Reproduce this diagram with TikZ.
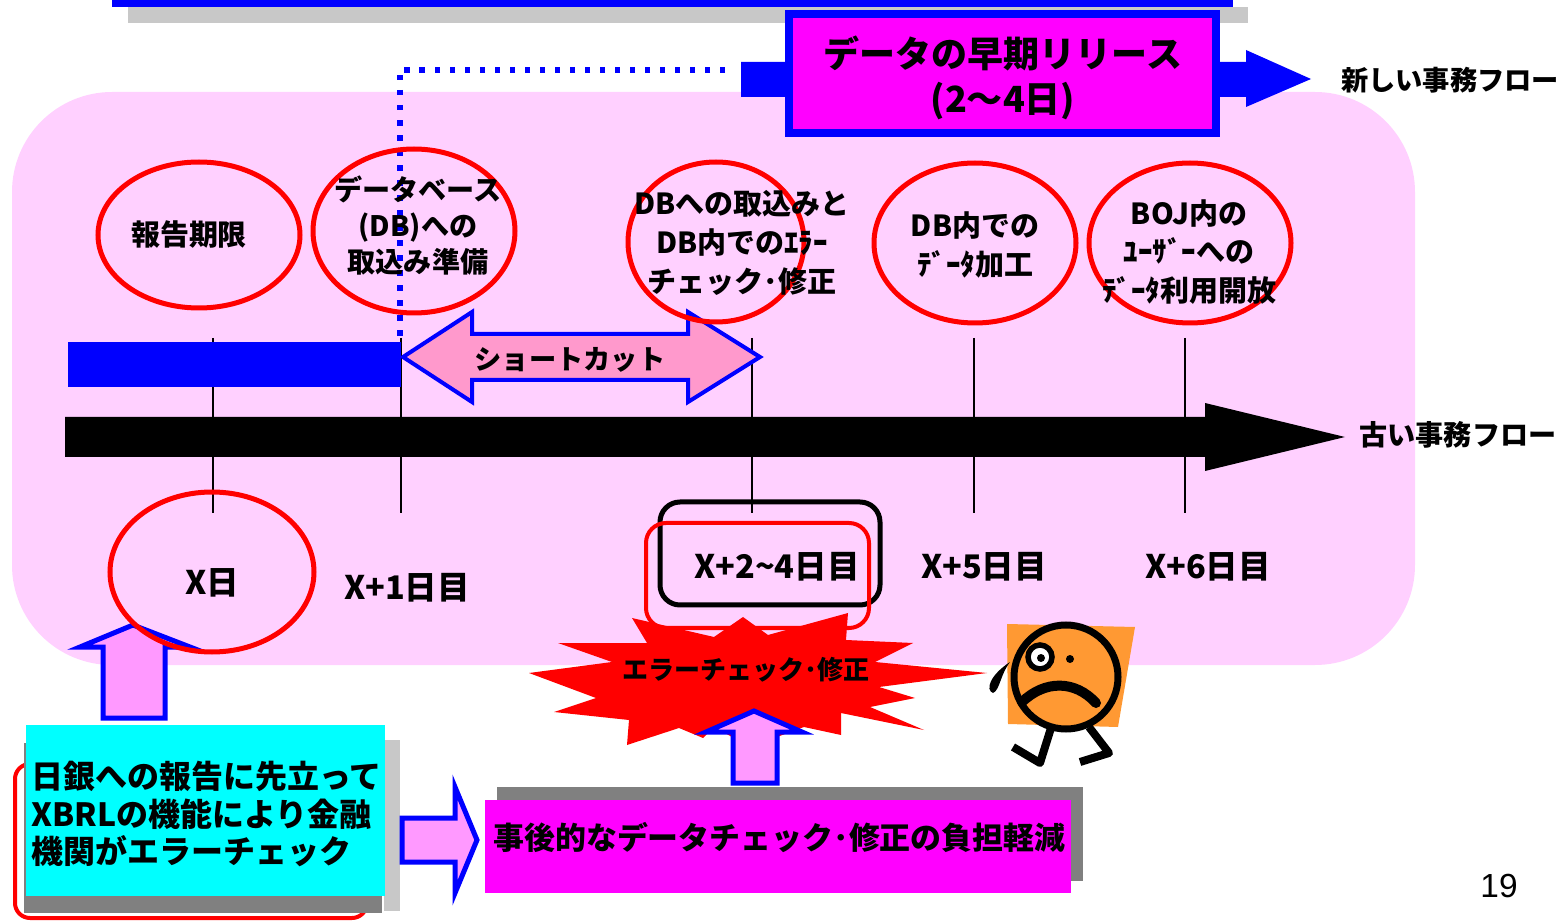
\documentclass[tikz,border=0pt]{standalone}
\usepackage{fontspec}
\setmainfont{Noto Sans CJK JP}
\newfontfamily\pagefont{Liberation Sans}
\usetikzlibrary{calc}

\definecolor{bgpink}{RGB}{255,208,255}
\definecolor{arrowpink}{RGB}{255,153,255}
\definecolor{cutpink}{RGB}{255,153,204}
\definecolor{facegold}{RGB}{255,153,51}
\definecolor{shadowgray}{RGB}{128,128,128}
\definecolor{gridgray}{RGB}{200,200,200}
\definecolor{boxmagenta}{RGB}{255,0,255}
\definecolor{boxcyan}{RGB}{0,255,255}

\tikzset{
	ring/.style={draw=red, line width=1mm},
	tick/.style={line width=0.45mm},
	fatarrow/.style={fill=arrowpink, draw=blue, line width=1mm, line join=miter},
	ringtext/.style={font=\bfseries\fontsize{16.5}{22}\selectfont, align=center, inner sep=0pt},
	daytext/.style={font=\bfseries\fontsize{18.5}{22}\selectfont, inner sep=0pt},
	flowtext/.style={font=\bfseries\fontsize{15.5}{18}\selectfont, inner sep=0pt},
	boxtext/.style={font=\bfseries\fontsize{18.2}{21.5}\selectfont, inner sep=0pt, align=left}
}

\begin{document}
\begin{tikzpicture}[x=0.2mm, y=-0.2mm]
			%%%%% START %%%%%
			\useasboundingbox (0,0) rectangle (1563,921);
			
			% edge of the box above
			\fill[gridgray] (128,7) rectangle (1248,23);
			\fill[blue] (112,-2) rectangle (1233,7);
			
			% background panel
			\fill[bgpink, rounded corners=20mm] (12,92) rectangle (1415,665);
			
			% new flow: arrow behind the title box
			\fill[blue] (741,62) -- (1246,62) -- (1246,50) -- (1311,79) -- (1246,107) -- (1246,97) -- (741,97) -- cycle;
			\coordinate (dotA) at (725,70);
			\coordinate (dotB) at (400,70);
			\coordinate (dotC) at (400,340);
			\draw[blue, line width=1.1mm, dash pattern=on 1.1mm off 1.9mm] (dotA) -- (dotB) -- (dotC);
			\draw[blue, fill=boxmagenta, line width=1.6mm] (789,14) rectangle (1216,133);
			\node[font=\bfseries\fontsize{20.5}{25.5}\selectfont, align=center, inner sep=0pt] (title) at (1003,78) {データの早期リリース\\(2～4日)};
			\node[flowtext] (newflow) at (1450,80) {新しい事務フロー};
			
			% time ticks
			\foreach \tx in {213,401,752,974,1185}
				\draw[tick] (\tx,338) -- (\tx,513);
			
			% shortened part and shortcut arrow
			\fill[blue] (68,342) rectangle (401,387);
			\draw[fill=cutpink, draw=blue, line width=0.8mm, line join=miter] (403,357) -- (472,312) -- (472,334) -- (688,334) -- (688,312) -- (760,357) -- (688,402) -- (688,380) -- (472,380) -- (472,402) -- cycle;
			\node[flowtext] (cut) at (570,360) {ショートカット};
			
			% old flow
			\fill (65,417) -- (1205,417) -- (1205,403) -- (1345,437) -- (1205,471) -- (1205,457) -- (65,457) -- cycle;
			\node[flowtext, font=\bfseries\fontsize{16}{18}\selectfont] (oldflow) at (1458,435) {古い事務フロー};
			
			% steps
			\draw[ring] (199,235) ellipse [x radius=101, y radius=73];
			\node[ringtext] (s1) at (189,235) {報告期限};
			\draw[ring] (414,231) ellipse [x radius=101, y radius=82];
			\node[ringtext, font=\bfseries\fontsize{16}{20.5}\selectfont] (s2) at (418,226) {データベース\\(DB)への\\取込み準備};
			\draw[ring] (716,242) ellipse [x radius=88, y radius=80];
			\node[ringtext] (s3) at (742,243) {DBへの取込みと\\DB内でのｴﾗｰ\\チェック･修正};
			\draw[ring] (975,243) ellipse [x radius=101, y radius=80];
			\node[ringtext] (s4) at (975,245) {DB内での\\ﾃﾞｰﾀ加工};
			\draw[ring] (1190,243) ellipse [x radius=101, y radius=80];
			\node[ringtext] (s5) at (1189,252) {BOJ内の\\ﾕｰｻﾞｰへの\\ﾃﾞｰﾀ利用開放};
			
			% days
			\node[daytext] (d0) at (212,583) {X日};
			\node[daytext] (d1) at (407,588) {X+1日目};
			\draw[line width=1mm, rounded corners=4mm] (660,502) rectangle (880,605);
			\draw[red, line width=0.8mm, rounded corners=4mm] (646,523) rectangle (869,628);
			\node[daytext] (d2) at (777,567) {X+2\textasciitilde4日目};
			\node[daytext] (d5) at (984,567) {X+5日目};
			\node[daytext] (d6) at (1208,567) {X+6日目};
			
			% error burst
			\fill[red] (529,673) -- (612,662) -- (558,643) -- (647,643) -- (632,618) -- (714,637) -- (743,617) -- (768,635) -- (848,613) -- (846,640) -- (913,643) -- (875,662) -- (987,673) -- (879,687) -- (915,698) -- (870,707) -- (924,730) -- (841,713) -- (841,735) -- (804,727) -- (750,747) -- (714,727) -- (703,738) -- (679,728) -- (627,745) -- (629,720) -- (554,712) -- (596,698) -- cycle;
			\node[flowtext, font=\bfseries\fontsize{14.8}{18}\selectfont] (burst) at (746,670) {エラーチェック･修正};
			
			% worried fellow
			\fill[facegold] (1007,624) -- (1135,627) -- (1118,727) -- (1008,724) -- cycle;
			\draw[line width=1.4mm, fill=facegold] (1066,677) ellipse [x radius=52, y radius=52];
			\draw[line width=1.1mm, fill=white] (1040,657) circle (12);
			\fill (1041,658) circle (4);
			\fill (1070,659) circle (4);
			\draw[line width=2mm, line cap=round] (1022,702) .. controls (1045,680) and (1075,680) .. (1096,703);
			\fill (1010,662) .. controls (990,675) and (985,690) .. (993,693) .. controls (1000,690) and (1000,675) .. (1010,662) -- cycle;
			\draw[line width=1.6mm, line join=round] (1051,728) -- (1040,763) -- (1013,747);
			\draw[line width=1.6mm, line join=round] (1089,727) -- (1109,753) -- (1080,762);
			
			% up arrows
			\draw[fatarrow] (103,718) -- (103,647) -- (80,647) -- (133,625) -- (190,647) -- (165,647) -- (165,718) -- cycle;
			\draw[ring] (212,572) ellipse [x radius=102, y radius=80];
			\draw[fatarrow] (733,783) -- (733,732) -- (706,732) -- (754,711) -- (802,732) -- (777,732) -- (777,783) -- cycle;
			
			% check before reporting
			\draw[red, line width=0.8mm, rounded corners=3mm] (15,764) rectangle (367,918);
			\fill[gridgray] (384,740) rectangle (400,911);
			\fill[shadowgray] (24,743) rectangle (382,913);
			\fill[boxcyan] (26,725) rectangle (385,896);
			\node[boxtext, anchor=west] (check) at (31,814) {日銀への報告に先立って\\XBRLの機能により金融\\機関がエラーチェック};
			
			% result
			\draw[fatarrow] (402,818) -- (455,818) -- (455,787) -- (477,840) -- (455,893) -- (455,862) -- (402,862) -- cycle;
			\fill[shadowgray] (497,787) rectangle (1083,881);
			\fill[boxmagenta] (485,800) rectangle (1071,893);
			\node[boxtext, anchor=west, font=\bfseries\fontsize{17.6}{21.5}\selectfont] (relief) at (493,838) {事後的なデータチェック･修正の負担軽減};
			
			\node[font=\pagefont\fontsize{19}{19}\selectfont, inner sep=0pt] (page) at (1499,886) {19};
			%%%%% END %%%%%
\end{tikzpicture}
\end{document}
